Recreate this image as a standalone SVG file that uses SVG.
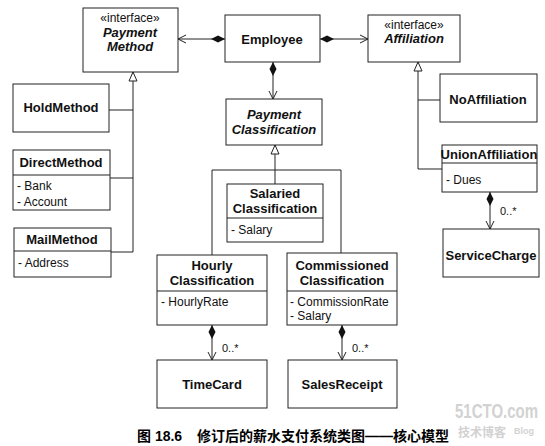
<svg xmlns="http://www.w3.org/2000/svg" width="545" height="446" viewBox="0 0 545 446">
<style>
.box{fill:#fff;stroke:#222;stroke-width:1}
.div{stroke:#222;stroke-width:1}
.ln{fill:none;stroke:#222;stroke-width:1}
.n{font-family:"Liberation Sans",Arial,sans-serif;font-weight:bold;font-size:13px;text-anchor:middle;fill:#111}
.ni{font-family:"Liberation Sans",Arial,sans-serif;font-weight:bold;font-style:italic;font-size:13px;text-anchor:middle;fill:#111}
.s{font-family:"Liberation Sans",Arial,sans-serif;font-size:12px;text-anchor:middle;fill:#111}
.a{font-family:"Liberation Sans",Arial,sans-serif;font-size:12px;fill:#111}
.m{font-family:"Liberation Sans",Arial,sans-serif;font-size:11px;fill:#111}
.cap{font-family:"Liberation Sans","Noto Sans CJK SC",sans-serif;font-weight:bold;font-size:14px;fill:#000}
.wm{font-family:"Liberation Sans","Noto Sans CJK SC",sans-serif;font-weight:bold;fill:#d2d2d2}
</style>
<defs>
<marker id="diamond" viewBox="-1 -5 16 10" refX="0" refY="0" markerWidth="16" markerHeight="10" markerUnits="userSpaceOnUse" orient="auto"><path d="M0,0 L7,-3.5 L14,0 L7,3.5 Z" fill="#111"/></marker>
<marker id="open" viewBox="-10 -6 12 12" refX="0" refY="0" markerWidth="12" markerHeight="12" markerUnits="userSpaceOnUse" orient="auto"><path d="M-8,-4 L0,0 L-8,4" fill="none" stroke="#222"/></marker>
<marker id="tri" viewBox="-11 -6 12 12" refX="0" refY="0" markerWidth="12" markerHeight="12" markerUnits="userSpaceOnUse" orient="auto"><path d="M-9,-4 L0,0 L-9,4 Z" fill="#fff" stroke="#222"/></marker>
</defs>

<g id="connectors">
<path class="ln" d="M225,39 L178,39" marker-start="url(#diamond)" marker-end="url(#open)"/>
<path class="ln" d="M320,39 L368,39" marker-start="url(#diamond)" marker-end="url(#open)"/>
<path class="ln" d="M273,62 L273,99" marker-start="url(#diamond)" marker-end="url(#open)"/>
<path class="ln" d="M133,252 L133,72" marker-end="url(#tri)"/>
<path class="ln" d="M109,110 H133 M110,178 H133 M111,252 H133"/>
<path class="ln" d="M275,184 L275,145" marker-end="url(#tri)"/>
<path class="ln" d="M212,255 V170 H341 V253"/>
<path class="ln" d="M418,169 L418,62" marker-end="url(#tri)"/>
<path class="ln" d="M442,169 H418 M440,100 H418"/>
<path class="ln" d="M212,325 L212,360" marker-start="url(#diamond)" marker-end="url(#open)"/>
<path class="ln" d="M342,325 L342,360" marker-start="url(#diamond)" marker-end="url(#open)"/>
<path class="ln" d="M490,192 L490,229" marker-start="url(#diamond)" marker-end="url(#open)"/>
<text class="m" x="222" y="352">0..*</text>
<text class="m" x="352" y="352">0..*</text>
<text class="m" x="500" y="215">0..*</text>
</g>

<g id="PaymentMethod">
<rect class="box" x="83" y="8" width="95" height="64"/>
<text class="s" x="130" y="22">«interface»</text>
<text class="ni" x="130" y="37">Payment</text>
<text class="ni" x="130" y="51">Method</text>
</g>
<g id="Employee">
<rect class="box" x="225" y="15" width="95" height="47"/>
<text class="n" x="272" y="44">Employee</text>
</g>
<g id="Affiliation">
<rect class="box" x="368" y="15" width="92" height="47"/>
<text class="s" x="414" y="29">«interface»</text>
<text class="ni" x="414" y="43">Affiliation</text>
</g>
<g id="HoldMethod">
<rect class="box" x="13" y="84" width="96" height="48"/>
<text class="n" x="61" y="112">HoldMethod</text>
</g>
<g id="DirectMethod">
<rect class="box" x="13" y="150" width="97" height="60"/>
<line class="div" x1="13" y1="175" x2="110" y2="175"/>
<text class="n" x="61" y="167">DirectMethod</text>
<text class="a" x="17" y="190">- Bank</text>
<text class="a" x="17" y="206">- Account</text>
</g>
<g id="MailMethod">
<rect class="box" x="14" y="228" width="97" height="49"/>
<line class="div" x1="14" y1="251" x2="111" y2="251"/>
<text class="n" x="62" y="244">MailMethod</text>
<text class="a" x="18" y="267">- Address</text>
</g>
<g id="PaymentClassification">
<rect class="box" x="226" y="99" width="96" height="46"/>
<text class="ni" x="274" y="119">Payment</text>
<text class="ni" x="274" y="134">Classification</text>
</g>
<g id="SalariedClassification">
<rect class="box" x="227" y="184" width="96" height="58"/>
<line class="div" x1="227" y1="218" x2="323" y2="218"/>
<text class="n" x="275" y="198">Salaried</text>
<text class="n" x="275" y="213">Classification</text>
<text class="a" x="231" y="234">- Salary</text>
</g>
<g id="HourlyClassification">
<rect class="box" x="157" y="255" width="110" height="70"/>
<line class="div" x1="157" y1="291" x2="267" y2="291"/>
<text class="n" x="212" y="270">Hourly</text>
<text class="n" x="212" y="285">Classification</text>
<text class="a" x="161" y="306">- HourlyRate</text>
</g>
<g id="CommissionedClassification">
<rect class="box" x="287" y="253" width="110" height="72"/>
<line class="div" x1="287" y1="291" x2="397" y2="291"/>
<text class="n" x="342" y="270">Commissioned</text>
<text class="n" x="342" y="285">Classification</text>
<text class="a" x="290" y="306">- CommissionRate</text>
<text class="a" x="290" y="320">- Salary</text>
</g>
<g id="TimeCard">
<rect class="box" x="157" y="360" width="110" height="48"/>
<text class="n" x="212" y="389">TimeCard</text>
</g>
<g id="SalesReceipt">
<rect class="box" x="288" y="360" width="109" height="48"/>
<text class="n" x="342" y="389">SalesReceipt</text>
</g>
<g id="NoAffiliation">
<rect class="box" x="440" y="74" width="97" height="48"/>
<text class="n" x="488" y="104">NoAffiliation</text>
</g>
<g id="UnionAffiliation">
<rect class="box" x="442" y="145" width="95" height="47"/>
<line class="div" x1="442" y1="163" x2="537" y2="163"/>
<text class="n" x="489" y="159">UnionAffiliation</text>
<text class="a" x="446" y="184">- Dues</text>
</g>
<g id="ServiceCharge">
<rect class="box" x="443" y="229" width="96" height="48"/>
<text class="n" x="491" y="260">ServiceCharge</text>
</g>

<g id="watermark">
<text class="wm" font-size="15" transform="translate(455,418) scale(1,1.4)">51CTO.com</text>
<text class="wm" x="458" y="437" font-size="12">技术博客</text>
<text class="wm" x="514" y="434" font-size="9">Blog</text>
</g>
<g id="caption">
<text class="cap" x="137" y="441">图 18.6</text>
<text class="cap" x="197" y="441">修订后的薪水支付系统类图——核心模型</text>
</g>
</svg>
